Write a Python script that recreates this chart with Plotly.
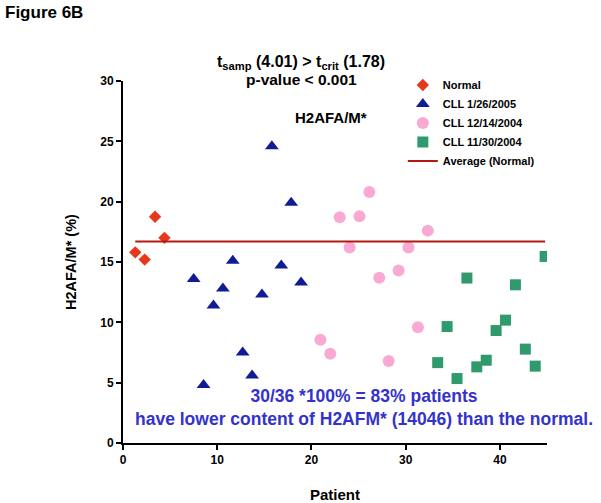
import plotly.graph_objects as go

# Data (x in axis units, y in %)
normal_x = [1.3, 2.3, 3.4, 4.4]
normal_y = [15.8, 15.2, 18.75, 17.0]

cll0126_x = [7.5, 8.55, 9.6, 10.6, 11.65, 12.7, 13.7, 14.75, 15.8, 16.8, 17.85, 18.9]
cll0126_y = [13.6, 4.8, 11.4, 12.8, 15.1, 7.5, 5.6, 12.3, 24.6, 14.7, 19.9, 13.3]

cll1214_x = [20.95, 22.0, 23.0, 24.05, 25.1, 26.15, 27.2, 28.2, 29.25, 30.3, 31.3, 32.35]
cll1214_y = [8.55, 7.4, 18.7, 16.2, 18.8, 20.8, 13.7, 6.8, 14.3, 16.2, 9.6, 17.6]

cll1130_x = [33.4, 34.4, 35.45, 36.5, 37.55, 38.55, 39.6, 40.6, 41.65, 42.7, 43.75, 44.8]
cll1130_y = [6.66, 9.65, 5.34, 13.67, 6.31, 6.86, 9.32, 10.18, 13.11, 7.78, 6.37, 15.46]

avg_x = [1.3, 44.8]
avg_y = [16.69, 16.69]

x_ticks = [0, 10, 20, 30, 40]
y_ticks = [0, 5, 10, 15, 20, 25, 30]

FONT = "Liberation Sans, Arial, sans-serif"

fig = go.Figure()
fig.add_trace(go.Scatter(x=normal_x, y=normal_y, mode="markers", name="Normal",
                         marker=dict(symbol="diamond", size=9.5, color="#E8381B")))
fig.add_trace(go.Scatter(x=cll0126_x, y=cll0126_y, mode="markers", name="CLL 1/26/2005",
                         marker=dict(symbol="triangle-up", size=12, color="#101C96")))
fig.add_trace(go.Scatter(x=cll1214_x, y=cll1214_y, mode="markers", name="CLL 12/14/2004",
                         marker=dict(symbol="circle", size=12, color="#F9AAD2")))
fig.add_trace(go.Scatter(x=cll1130_x, y=cll1130_y, mode="markers", name="CLL 11/30/2004",
                         marker=dict(symbol="square", size=11, color="#2F9B6C")))
fig.add_trace(go.Scatter(x=avg_x, y=avg_y, mode="lines", name="Average (Normal)",
                         line=dict(color="#B3190F", width=2)))

fig.update_layout(
    width=601, height=503,
    margin=dict(l=123, r=54, t=81, b=60, autoexpand=False),
    paper_bgcolor="white", plot_bgcolor="white",
    font=dict(family=FONT, size=12, color="black", weight="bold"),
    showlegend=True,
    legend=dict(x=0.66, y=1.029, xanchor="left", yanchor="top",
                font=dict(family=FONT, size=11, color="black", weight="bold"),
                bgcolor="rgba(0,0,0,0)", tracegroupgap=0, itemwidth=30),
    xaxis=dict(range=[0, 45], tickvals=x_ticks, showline=True, linecolor="black", linewidth=2,
               ticks="outside", ticklen=5, tickwidth=2, tickcolor="black", showgrid=False,
               zeroline=False, automargin=False, tickfont=dict(family=FONT, size=12, weight="bold"),
               title=dict(text="Patient", font=dict(family=FONT, size=15, weight="bold"), standoff=24)),
    yaxis=dict(range=[0, 30], tickvals=y_ticks, showline=True, linecolor="black", linewidth=2,
               ticks="outside", ticklen=5, tickwidth=2, tickcolor="black", showgrid=False,
               zeroline=False, automargin=False, tickfont=dict(family=FONT, size=12, weight="bold"),
               title=dict(text="H2AFA/M* (%)", font=dict(family=FONT, size=14.5, weight="bold"), standoff=20)),
)

fig.add_annotation(text="Figure 6B", xref="paper", yref="paper", x=-0.283, y=1.1906,
                   xanchor="left", yanchor="middle", showarrow=False,
                   font=dict(family=FONT, size=17, weight="bold"))
fig.add_annotation(text="t<sub>samp</sub> (4.01) > t<sub>crit</sub> (1.78)", xref="paper", yref="paper",
                   x=0.42, y=1.05, xanchor="center", yanchor="middle", showarrow=False,
                   font=dict(family=FONT, size=16, weight="bold"))
fig.add_annotation(text="p-value < 0.001", xref="paper", yref="paper",
                   x=0.42, y=1.005, xanchor="center", yanchor="middle", showarrow=False,
                   font=dict(family=FONT, size=15.5, weight="bold"))
fig.add_annotation(text="H2AFA/M*", xref="paper", yref="paper",
                   x=0.49, y=0.9, xanchor="center", yanchor="middle", showarrow=False,
                   font=dict(family=FONT, size=15, weight="bold"))
fig.add_annotation(text="30/36 *100% = 83% patients<br>have lower content of H2AFM* (14046) than the normal.",
                   xref="paper", yref="paper", x=0.568, y=0.098, xanchor="center", yanchor="middle",
                   showarrow=False, align="center",
                   font=dict(family=FONT, size=17.5, color="#3333CC", weight="bold"))

# remove the default 8px page margin so the figure fills the window exactly
fig.write_html("out.html", config={"displayModeBar": False},
               post_script="document.body.style.margin='0';")
